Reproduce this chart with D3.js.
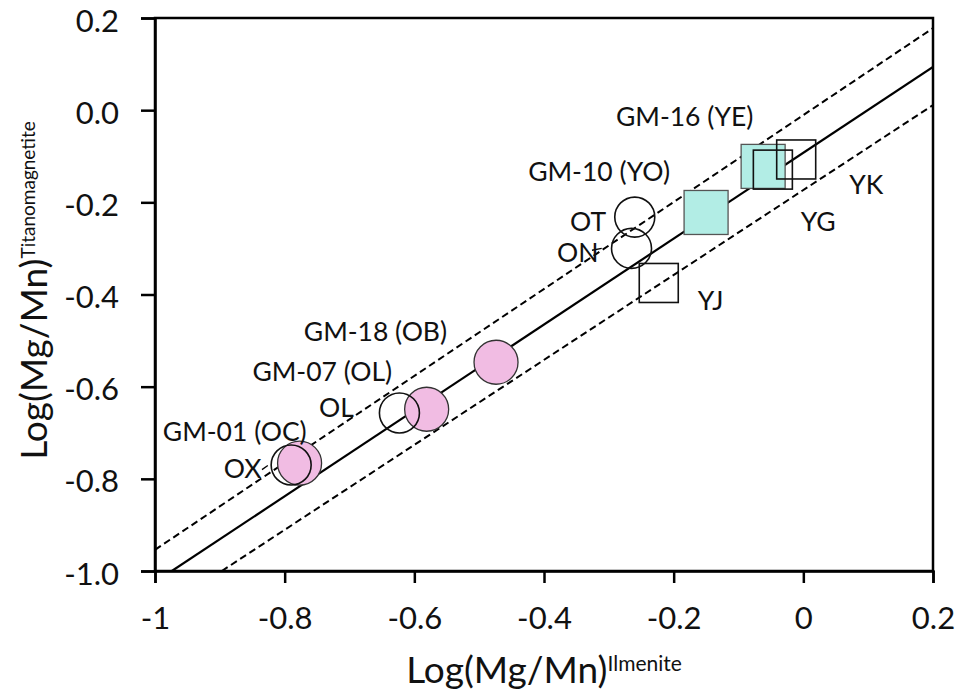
<!DOCTYPE html>
<html>
<head>
<meta charset="utf-8">
<script src="https://cdn.jsdelivr.net/npm/d3@7"></script>
<style>
  html, body { margin: 0; padding: 0; background: #fff; }
  svg { display: block; font-family: Lato, "Open Sans", sans-serif; }
</style>
</head>
<body>
<svg id="chart" width="963" height="698"></svg>
<script>
// ---- data ----
const xTicks = [-1, -0.8, -0.6, -0.4, -0.2, 0, 0.2];
const yTicks = [0.2, 0.0, -0.2, -0.4, -0.6, -0.8, -1.0];
const xTickLabels = ["-1", "-0.8", "-0.6", "-0.4", "-0.2", "0", "0.2"];
const yTickLabels = ["0.2", "0.0", "-0.2", "-0.4", "-0.6", "-0.8", "-1.0"];

// fitted line and ± envelope (endpoints in data units)
const solidLine = [[-0.974, -1.0], [0.2, 0.094]];
const upperDashed = [[-1.0, -0.954], [0.2, 0.178]];
const lowerDashed = [[-0.897, -1.0], [0.2, 0.011]];

// open circles (samples)
const openCircleNames = ["OX", "OL", "OT", "ON"];
const openCircleX = [-0.790, -0.623, -0.260, -0.265];
const openCircleY = [-0.770, -0.657, -0.232, -0.300];

// filled pink circles (GM)
const pinkNames = ["GM-01 (OC)", "GM-07 (OL)", "GM-18 (OB)"];
const pinkX = [-0.777, -0.581, -0.474];
const pinkY = [-0.766, -0.649, -0.547];

// filled teal squares (GM)
const tealNames = ["GM-10 (YO)", "GM-16 (YE)"];
const tealX = [-0.150, -0.062];
const tealY = [-0.222, -0.122];

// open squares (samples)
const openSquareNames = ["YG", "YK", "YJ"];
const openSquareX = [-0.047, -0.011, -0.223];
const openSquareY = [-0.129, -0.107, -0.375];

// label anchors (text centre, data units)
const labelText = ["GM-16 (YE)", "GM-10 (YO)", "OT", "ON", "YJ", "YG", "YK",
                   "GM-18 (OB)", "GM-07 (OL)", "OL", "GM-01 (OC)", "OX"];
const labelX = [-0.183, -0.315, -0.332, -0.348, -0.143, 0.023, 0.097,
                -0.660, -0.742, -0.720, -0.877, -0.865];
const labelY = [-0.013, -0.132, -0.240, -0.308, -0.412, -0.240, -0.160,
                -0.479, -0.566, -0.644, -0.696, -0.776];

// short leader ticks
const leaders = [
  [[-0.326, -0.304], [-0.311, -0.300]],
  [[-0.835, -0.780], [-0.826, -0.771]]
];

// ---- layout ----
const svg = d3.select("#chart");
const margin = {left: 155, top: 18, right: 30, bottom: 127};
const W = 963, H = 698;
const x = d3.scaleLinear().domain([-1, 0.2]).range([margin.left, W - margin.right]);
const y = d3.scaleLinear().domain([-1, 0.2]).range([H - margin.bottom, margin.top]);

const plot = svg.append("g");
const clipId = "plotclip";
svg.append("clipPath").attr("id", clipId).append("rect")
  .attr("x", x(-1)).attr("y", y(0.2)).attr("width", x(0.2) - x(-1)).attr("height", y(-1) - y(0.2));

// lines
const lg = plot.append("g").attr("clip-path", `url(#${clipId})`);
const lineGen = d3.line().x(d => x(d[0])).y(d => y(d[1]));
lg.append("path").attr("d", lineGen(solidLine)).attr("stroke", "#000").attr("stroke-width", 2.2).attr("fill", "none");
[upperDashed, lowerDashed].forEach(l => {
  lg.append("path").attr("d", lineGen(l)).attr("stroke", "#000").attr("stroke-width", 2)
    .attr("stroke-dasharray", "7,4").attr("fill", "none");
});

// filled markers
plot.selectAll(".pink").data(pinkX).enter().append("circle")
  .attr("cx", (d) => x(d)).attr("cy", (d, i) => y(pinkY[i])).attr("r", 22)
  .attr("fill", "#f1bce3").attr("stroke", "#333").attr("stroke-width", 1.3);

const tealSize = 44;
plot.selectAll(".teal").data(tealX).enter().append("rect")
  .attr("x", d => x(d) - tealSize / 2).attr("y", (d, i) => y(tealY[i]) - tealSize / 2)
  .attr("width", tealSize).attr("height", tealSize)
  .attr("fill", "#b2ede5").attr("stroke", "#555").attr("stroke-width", 1.3);

// open markers
plot.selectAll(".oc").data(openCircleX).enter().append("circle")
  .attr("cx", d => x(d)).attr("cy", (d, i) => y(openCircleY[i])).attr("r", 20)
  .attr("fill", "none").attr("stroke", "#111").attr("stroke-width", 1.6);

const sqSize = 39;
plot.selectAll(".os").data(openSquareX).enter().append("rect")
  .attr("x", d => x(d) - sqSize / 2).attr("y", (d, i) => y(openSquareY[i]) - sqSize / 2)
  .attr("width", sqSize).attr("height", sqSize)
  .attr("fill", "none").attr("stroke", "#111").attr("stroke-width", 1.6);

// leaders
leaders.forEach(l => {
  plot.append("path").attr("d", lineGen(l)).attr("stroke", "#000").attr("stroke-width", 1.3).attr("fill", "none");
});

// labels
plot.selectAll(".lbl").data(labelText).enter().append("text")
  .attr("x", (d, i) => x(labelX[i])).attr("y", (d, i) => y(labelY[i]))
  .attr("text-anchor", "middle").attr("dominant-baseline", "central")
  .attr("font-size", 26.5).attr("fill", "#111").text(d => d);

// frame
svg.append("rect").attr("x", x(-1)).attr("y", y(0.2))
  .attr("width", x(0.2) - x(-1)).attr("height", y(-1) - y(0.2))
  .attr("fill", "none").attr("stroke", "#000").attr("stroke-width", 2.5);

// axes
const xAxis = d3.axisBottom(x).tickValues(xTicks).tickSize(12).tickPadding(24)
  .tickFormat((d, i) => xTickLabels[i]);
const yAxis = d3.axisLeft(y).tickValues(yTicks).tickSize(14).tickPadding(22)
  .tickFormat((d, i) => yTickLabels[i]);

const gx = svg.append("g").attr("transform", `translate(0,${y(-1)})`).call(xAxis);
const gy = svg.append("g").attr("transform", `translate(${x(-1)},0)`).call(yAxis);
[gx, gy].forEach(g => {
  g.select(".domain").attr("stroke", "#000").attr("stroke-width", 2.5);
  g.selectAll(".tick line").attr("stroke", "#000").attr("stroke-width", 2.5);
  g.selectAll(".tick text").attr("font-size", 31).attr("fill", "#111")
    .attr("font-family", "Lato, 'Open Sans', sans-serif");
});
gy.selectAll(".tick text").attr("dy", "0.42em");

// axis titles
const xt = svg.append("text").attr("x", (x(-1) + x(0.2)) / 2).attr("y", 683)
  .attr("text-anchor", "middle").attr("font-size", 37).attr("fill", "#111");
xt.append("tspan").text("Log(Mg/Mn)");
xt.append("tspan").attr("font-size", 21).attr("dy", -12).text("Ilmenite");

const yt = svg.append("text")
  .attr("transform", `translate(47,${(y(-1) + y(0.2)) / 2 - 4}) rotate(-90)`)
  .attr("text-anchor", "middle").attr("font-size", 37).attr("fill", "#111");
yt.append("tspan").text("Log(Mg/Mn)");
yt.append("tspan").attr("font-size", 19).attr("dy", -12).text("Titanomagnetite");
</script>
</body>
</html>
